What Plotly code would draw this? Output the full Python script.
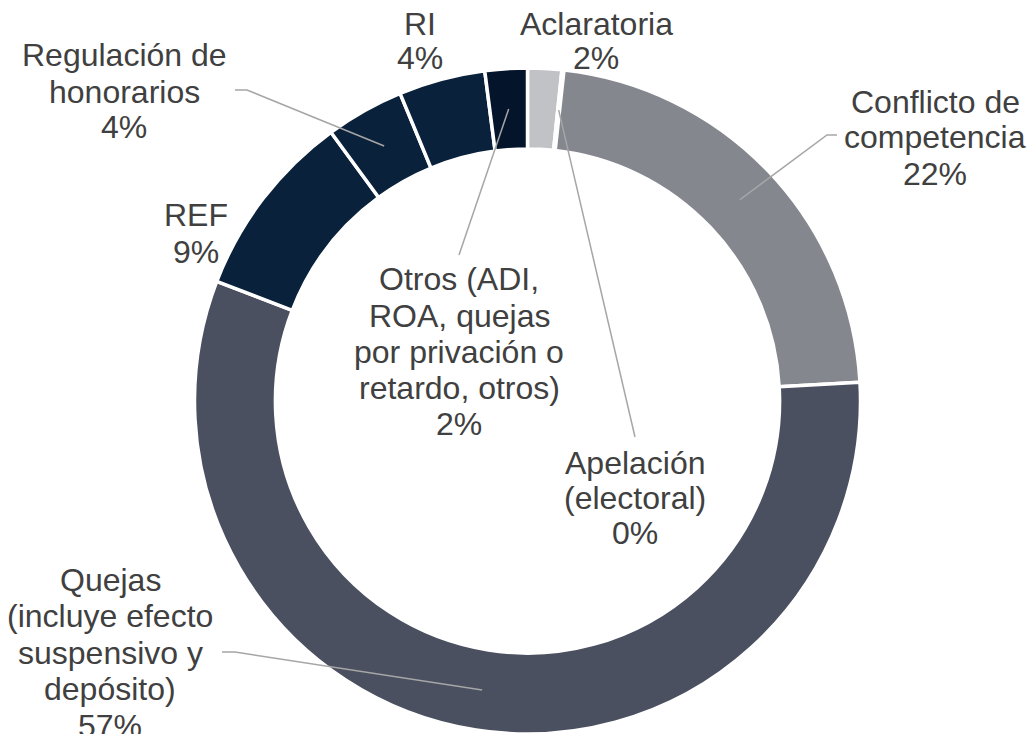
import math
import plotly.graph_objects as go

# ---------------- data ----------------
categories = [
    "Aclaratoria",
    "Apelación (electoral)",
    "Conflicto de competencia",
    "Quejas (incluye efecto suspensivo y depósito)",
    "REF",
    "Regulación de honorarios",
    "RI",
    "Otros (ADI, ROA, quejas por privación o retardo, otros)",
]
shares = [1.65, 0.1, 22.35, 56.75, 9.1, 3.8, 4.2, 2.05]
label_lines = [
    ["Aclaratoria"],
    ["Apelación", "(electoral)"],
    ["Conflicto de", "competencia"],
    ["Quejas", "(incluye efecto", "suspensivo y", "depósito)"],
    ["REF"],
    ["Regulación de", "honorarios"],
    ["RI"],
    ["Otros (ADI,", "ROA, quejas", "por privación o", "retardo, otros)"],
]

# ---------------- styles / layout ----------------
W, H = 1034, 734
colors = ["#c1c2c6", "#c1c2c6", "#85878f", "#4b5060", "#0a213b", "#0a213b", "#0a213b", "#04152b"]
TEXT_COLOR = "#404040"
LINE_COLOR = "#a6a6a6"
FONT = "Liberation Sans, Arial, sans-serif"
FS = 32

CX, CY, R = 527.5, 401.0, 333.0   # pie centre / radius in pixels
HOLE = 0.757

# label placement: (centre x, first baseline y, line pitch)
label_pos = [
    (596, 35, 35),
    (635, 474, 35),
    (935, 113, 36),
    (110, 591, 36.5),
    (196, 227, 36),
    (124, 67, 36),
    (420, 35, 35),
    (459, 291, 36.2),
]
# leader line label-side points (None = no leader)
leader_pts = [
    None,
    [(635, 437)],
    [(827, 135), (837, 135)],
    [(235, 652), (222, 652)],
    None,
    [(247, 90), (235, 90)],
    None,
    [(459, 255)],
]

def px(x):
    return x / W

def py(y):
    return 1 - y / H

fig = go.Figure(go.Pie(
    labels=categories,
    values=shares,
    sort=False,
    direction="clockwise",
    rotation=0,
    hole=HOLE,
    textinfo="none",
    marker=dict(colors=colors, line=dict(color="white", width=3.5)),
    domain=dict(x=[px(CX - R), px(CX + R)], y=[py(CY + R), py(CY - R)]),
    showlegend=False,
    hoverinfo="label+percent",
))

total = sum(shares)
annotations = []
shapes = []
cum = 0.0
r_mid = R * (1 + HOLE) / 2
for i, v in enumerate(shares):
    pct = round(v / total * 100)
    lines = label_lines[i] + [f"{pct}%"]
    lx, base, pitch = label_pos[i]
    for k, t in enumerate(lines):
        yb = base + k * pitch
        annotations.append(dict(
            x=px(lx), y=py(yb - 11.5), xref="paper", yref="paper",
            text=t, showarrow=False, xanchor="center", yanchor="middle",
            font=dict(family=FONT, size=FS, color=TEXT_COLOR),
        ))
    mid = (cum + v / 2) / total * 2 * math.pi
    cum += v
    if leader_pts[i]:
        sx = CX + r_mid * math.sin(mid)
        sy = CY - r_mid * math.cos(mid)
        pts = [(sx, sy)] + leader_pts[i]
        path = "M " + " L ".join(f"{px(a):.5f},{py(b):.5f}" for a, b in pts)
        shapes.append(dict(type="path", path=path, xref="paper", yref="paper",
                           line=dict(color=LINE_COLOR, width=1.5)))

fig.update_layout(
    width=W, height=H,
    margin=dict(l=0, r=0, t=0, b=0),
    paper_bgcolor="white",
    plot_bgcolor="white",
    annotations=annotations,
    shapes=shapes,
)

fig.write_html(
    "out.html",
    config={"displayModeBar": False},
    post_script="document.body.style.margin='0px';document.body.style.overflow='hidden';",
)
